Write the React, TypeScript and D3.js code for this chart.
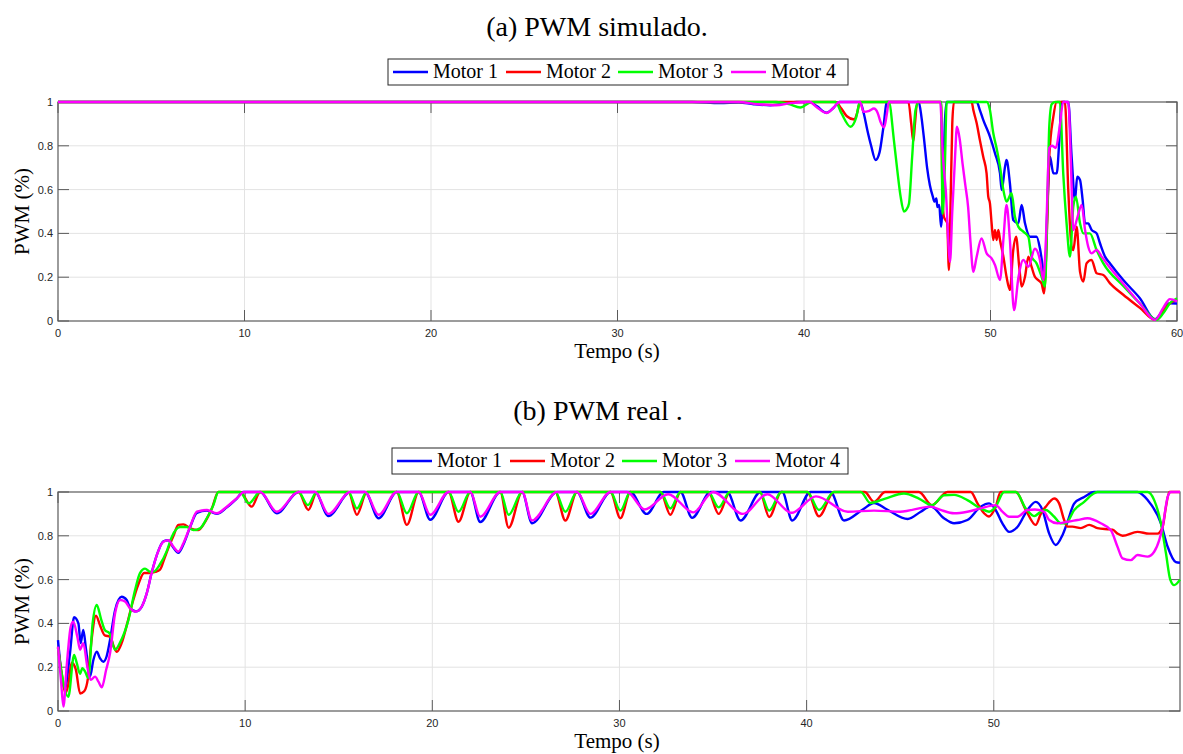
import React from "react";
import * as d3 from "d3";

type Pt = [number, number];

const motorNames = ["Motor 1", "Motor 2", "Motor 3", "Motor 4"];
const motorColors = ["#0000ff", "#ff0000", "#00ff00", "#ff00ff"];
const yTicks = [0, 0.2, 0.4, 0.6, 0.8, 1];
const simXTicks = [0, 10, 20, 30, 40, 50, 60];
const realXTicks = [0, 10, 20, 30, 40, 50];

// (a) PWM simulado
const simMotor1: Pt[] = [[0,1],[34,1],[35.5,0.995],[36.5,0.998],[37.3,0.99],[38.2,0.985],[39,0.993],[39.6,1],[40.3,1],[40.7,0.98],[41.2,0.951],[41.6,0.975],[41.9,1],[43.0,1],[43.2,0.95],[43.4,0.87],[43.6,0.8],[43.84,0.735],[44.05,0.77],[44.25,0.88],[44.45,1],[46.15,1],[46.3,0.93],[46.45,0.82],[46.6,0.7],[46.75,0.62],[46.9,0.57],[47.0,0.545],[47.1,0.56],[47.15,0.52],[47.25,0.53],[47.35,0.43],[47.45,0.6],[47.55,0.9],[47.65,1],[49.26,1],[49.43,0.963],[49.61,0.918],[49.97,0.842],[50.24,0.766],[50.51,0.674],[50.6,0.598],[50.78,0.705],[50.86,0.735],[51.04,0.629],[51.22,0.461],[51.49,0.446],[51.67,0.53],[51.85,0.446],[52.12,0.385],[52.47,0.385],[52.65,0.332],[52.83,0.233],[52.92,0.19],[53.05,0.522],[53.19,0.75],[53.37,0.674],[53.55,0.674],[53.69,0.826],[53.81,1],[54.17,1],[54.35,0.75],[54.53,0.553],[54.65,0.659],[54.8,0.644],[54.94,0.553],[55.07,0.446],[55.24,0.446],[55.42,0.416],[55.69,0.4],[55.87,0.355],[56.14,0.294],[56.41,0.263],[57.12,0.187],[58.01,0.104],[58.82,0.008],[59.26,0.05],[59.62,0.081],[60,0.08]];
const simMotor2: Pt[] = [[0,1],[41.7,1],[42.0,0.97],[42.3,0.935],[42.7,0.92],[42.85,0.95],[43.0,1],[45.6,1],[45.75,0.9],[45.86,0.82],[45.95,0.9],[46.07,1],[47.35,1],[47.42,0.6],[47.5,0.476],[47.68,0.446],[47.77,0.233],[47.85,0.5],[47.95,0.9],[48.04,1],[48.99,1],[49.08,0.963],[49.26,0.903],[49.43,0.826],[49.61,0.75],[49.79,0.674],[49.88,0.568],[49.97,0.537],[50.06,0.446],[50.15,0.37],[50.24,0.416],[50.33,0.37],[50.42,0.416],[50.51,0.37],[50.69,0.294],[50.86,0.202],[51.04,0.142],[51.22,0.324],[51.37,0.385],[51.54,0.248],[51.67,0.157],[51.85,0.202],[52.03,0.294],[52.2,0.248],[52.38,0.202],[52.56,0.187],[52.74,0.172],[52.87,0.126],[53.01,0.37],[53.15,0.75],[53.37,0.933],[53.55,1],[53.99,1],[54.17,0.598],[54.35,0.339],[54.44,0.324],[54.62,0.431],[54.8,0.225],[54.98,0.18],[55.15,0.263],[55.42,0.279],[55.69,0.218],[56.05,0.21],[56.41,0.172],[57.12,0.12],[58.01,0.06],[58.82,0.005],[59.26,0.05],[59.62,0.081],[60,0.096]];
const simMotor3: Pt[] = [[0,1],[38.5,1],[39.2,0.99],[39.8,0.975],[40.4,1],[41.7,1],[42.0,0.95],[42.5,0.887],[42.8,0.93],[43.0,1],[44.55,1],[44.82,0.826],[45.0,0.69],[45.18,0.568],[45.36,0.5],[45.5,0.51],[45.63,0.537],[45.8,0.75],[45.98,0.963],[46.16,1],[47.35,1],[47.43,0.49],[47.55,0.7],[47.65,1],[49.8,1],[49.97,0.963],[50.15,0.857],[50.33,0.788],[50.51,0.705],[50.69,0.598],[50.86,0.545],[51.13,0.583],[51.31,0.476],[51.49,0.431],[51.76,0.408],[52.03,0.385],[52.2,0.294],[52.47,0.263],[52.74,0.202],[52.92,0.157],[53.05,0.522],[53.15,0.887],[53.28,0.99],[53.46,1],[53.72,1],[53.9,0.674],[54.08,0.446],[54.26,0.294],[54.44,0.522],[54.58,0.568],[54.8,0.446],[54.98,0.4],[55.33,0.4],[55.69,0.324],[56.05,0.263],[57.12,0.16],[58.01,0.08],[58.91,0.005],[59.26,0.035],[59.62,0.081],[60,0.104]];
const simMotor4: Pt[] = [[0,1],[36.5,1],[37.5,0.99],[38.5,0.985],[39.3,0.995],[40.3,1],[40.7,0.975],[41.2,0.95],[41.6,0.975],[41.9,1],[43.0,1],[43.2,0.955],[43.5,0.96],[43.75,0.97],[43.95,0.95],[44.1,0.91],[44.3,0.884],[44.45,0.95],[44.55,1],[47.3,1],[47.45,0.75],[47.6,0.6],[47.83,0.27],[47.95,0.5],[48.1,0.75],[48.2,0.887],[48.35,0.83],[48.5,0.72],[48.65,0.62],[48.8,0.52],[48.92,0.37],[49.08,0.225],[49.25,0.29],[49.52,0.377],[49.79,0.309],[50.06,0.286],[50.24,0.256],[50.51,0.187],[50.69,0.37],[50.86,0.53],[51.04,0.37],[51.26,0.05],[51.5,0.2],[51.76,0.279],[52.03,0.248],[52.38,0.33],[52.65,0.279],[52.83,0.187],[52.97,0.37],[53.15,0.79],[53.3,0.8],[53.5,0.79],[53.7,0.88],[53.9,1],[54.17,1],[54.3,0.75],[54.44,0.415],[54.65,0.47],[54.89,0.53],[55.07,0.416],[55.24,0.339],[55.42,0.309],[55.69,0.324],[55.96,0.294],[56.23,0.263],[57.12,0.17],[58.01,0.08],[58.82,0.005],[59.26,0.06],[59.62,0.1],[60,0.09]];

// (b) PWM real
const realMotor1: Pt[] = [[0,0.324],[0.36,0.1],[0.64,0.263],[0.86,0.428],[1.09,0.4],[1.21,0.31],[1.35,0.37],[1.5,0.28],[1.71,0.157],[1.89,0.233],[2.07,0.271],[2.25,0.24],[2.42,0.225],[2.6,0.25],[2.78,0.324],[3.05,0.46],[3.4,0.522],[3.67,0.507],[3.85,0.47],[4.17,0.455],[4.47,0.476],[4.74,0.537],[5.0,0.63],[5.28,0.712],[5.63,0.775],[5.9,0.78],[6.17,0.745],[6.43,0.722],[6.7,0.76],[7.06,0.84],[7.42,0.905],[7.95,0.915],[8.48,0.9],[9.02,0.93],[9.55,0.97],[9.9,1],[10.8,1],[11.69,0.903],[12.85,1],[13.74,1],[14.45,0.89],[15.61,1],[16.41,1],[17.13,0.88],[18.1,1],[19.27,1],[19.89,0.873],[20.87,1],[22.03,1],[22.56,0.863],[23.63,1],[24.8,1],[25.33,0.857],[26.66,1],[27.73,1],[28.45,0.883],[29.52,1],[30.58,1],[31.45,0.9],[32.37,1],[33.26,1],[33.88,0.882],[34.87,1],[35.76,1],[36.47,0.87],[37.54,1],[38.7,1],[39.23,0.87],[40.21,1],[41.28,1],[42.0,0.87],[43.0,0.92],[43.6,0.95],[44.3,0.92],[45.4,0.877],[46.1,0.91],[46.63,0.935],[47.34,0.88],[47.88,0.857],[48.59,0.872],[49.3,0.933],[49.75,0.948],[50.1,0.918],[50.46,0.857],[50.82,0.818],[51.26,0.84],[51.8,0.918],[52.24,0.955],[52.6,0.918],[52.96,0.81],[53.31,0.758],[53.67,0.803],[53.94,0.864],[54.3,0.948],[54.83,0.977],[55.36,1],[57.68,1],[58.22,0.963],[58.93,0.857],[59.29,0.75],[59.73,0.68],[59.95,0.677]];
const realMotor2: Pt[] = [[0,0.29],[0.2,0.17],[0.4,0.08],[0.55,0.12],[0.73,0.22],[0.95,0.19],[1.18,0.08],[1.4,0.09],[1.6,0.15],[1.8,0.33],[2.03,0.435],[2.25,0.39],[2.5,0.345],[2.78,0.34],[3.0,0.29],[3.14,0.27],[3.4,0.31],[3.7,0.4],[4.0,0.5],[4.3,0.58],[4.6,0.63],[4.9,0.63],[5.2,0.635],[5.45,0.645],[5.7,0.7],[5.9,0.745],[6.17,0.8],[6.43,0.85],[6.7,0.852],[7.06,0.834],[7.5,0.826],[7.86,0.864],[8.22,0.925],[8.57,1],[9.73,1],[10.35,0.933],[10.8,1],[12.85,1],[13.38,0.918],[13.83,1],[15.52,1],[15.97,0.896],[16.5,1],[18.1,1],[18.64,0.85],[19.27,1],[20.87,1],[21.4,0.864],[22.03,1],[23.63,1],[24.08,0.837],[24.8,1],[26.57,1],[27.11,0.87],[27.73,1],[29.52,1],[30.05,0.88],[30.58,1],[32.19,1],[32.72,0.896],[33.26,1],[34.75,1],[35.3,0.9],[35.9,1],[37.5,1],[38.0,0.886],[38.65,1],[40.04,1],[40.66,0.889],[41.46,1],[43.1,1],[43.6,0.955],[44.2,1],[46.0,1],[46.7,0.94],[47.52,1],[48.77,1],[49.13,0.948],[49.48,0.903],[49.75,0.888],[50.1,0.933],[50.37,1],[51.18,1],[51.71,0.918],[52.24,0.85],[52.51,0.9],[52.78,0.933],[53.23,0.97],[53.49,0.948],[53.76,0.872],[53.94,0.842],[54.2,0.842],[54.65,0.835],[55.1,0.85],[55.54,0.835],[56.08,0.83],[56.35,0.828],[56.61,0.81],[56.88,0.8],[57.68,0.818],[58.3,0.81],[58.75,0.81],[59.02,0.84],[59.2,0.933],[59.38,1],[59.95,1]];
const realMotor3: Pt[] = [[0,0.29],[0.2,0.17],[0.55,0.065],[0.86,0.256],[1.0,0.22],[1.18,0.17],[1.3,0.195],[1.45,0.18],[1.62,0.15],[1.85,0.4],[2.07,0.484],[2.3,0.42],[2.5,0.37],[2.75,0.355],[3.05,0.28],[3.3,0.31],[3.76,0.415],[4.12,0.553],[4.38,0.63],[4.65,0.65],[4.92,0.636],[5.1,0.636],[5.45,0.67],[5.81,0.73],[6.08,0.795],[6.52,0.84],[6.88,0.84],[7.24,0.826],[7.59,0.834],[7.95,0.88],[8.3,0.94],[8.57,1],[9.73,1],[10.2,0.948],[10.8,1],[12.85,1],[13.35,0.94],[13.83,1],[15.52,1],[15.97,0.925],[16.5,1],[18.1,1],[18.64,0.903],[19.27,1],[20.87,1],[21.4,0.91],[22.03,1],[23.63,1],[24.08,0.896],[24.8,1],[26.57,1],[27.11,0.91],[27.73,1],[29.52,1],[30.05,0.915],[30.58,1],[32.19,1],[32.72,0.925],[33.26,1],[34.75,1],[35.3,0.93],[35.9,1],[37.5,1],[38.0,0.915],[38.65,1],[40.04,1],[40.66,0.918],[41.46,1],[42.9,1],[43.4,0.95],[44.2,0.97],[45.2,0.993],[46.0,0.97],[46.7,0.94],[47.34,0.985],[47.88,0.987],[48.59,0.963],[49.3,0.925],[49.75,0.91],[50.1,0.933],[50.55,1],[51.18,1],[51.71,0.925],[52.16,0.89],[52.51,0.91],[52.78,0.918],[53.23,0.887],[53.58,0.857],[53.85,0.857],[54.3,0.918],[54.83,0.955],[55.28,0.99],[55.54,1],[58.22,1],[58.57,0.963],[58.93,0.857],[59.2,0.72],[59.43,0.6],[59.64,0.575],[59.95,0.6]];
const realMotor4: Pt[] = [[0,0.294],[0.16,0.14],[0.29,0.02],[0.46,0.2],[0.68,0.385],[0.82,0.408],[1.03,0.34],[1.18,0.28],[1.35,0.31],[1.57,0.2],[1.75,0.142],[1.98,0.157],[2.16,0.134],[2.34,0.108],[2.57,0.187],[2.78,0.263],[3.05,0.446],[3.32,0.507],[3.58,0.5],[3.85,0.469],[4.17,0.454],[4.47,0.476],[4.74,0.537],[5.0,0.629],[5.28,0.712],[5.63,0.773],[5.9,0.78],[6.17,0.75],[6.43,0.728],[6.7,0.766],[7.06,0.842],[7.42,0.91],[7.95,0.918],[8.48,0.903],[9.02,0.933],[9.55,0.971],[9.95,1],[10.8,1],[11.69,0.91],[12.85,1],[13.74,1],[14.45,0.9],[15.61,1],[16.41,1],[17.13,0.896],[18.1,1],[19.27,1],[19.89,0.896],[20.87,1],[22.03,1],[22.56,0.887],[23.63,1],[24.8,1],[25.33,0.87],[26.66,1],[27.73,1],[28.45,0.9],[29.52,1],[30.4,1],[31.35,0.92],[32.6,0.99],[33.95,0.907],[35.0,1],[36.6,0.9],[37.9,0.99],[39.2,0.905],[40.5,0.98],[42.2,0.91],[43.6,0.915],[45.0,0.91],[46.63,0.933],[47.16,0.918],[47.88,0.903],[48.59,0.91],[49.3,0.925],[50.1,0.94],[50.46,0.91],[50.82,0.887],[51.26,0.887],[51.8,0.918],[52.2,0.92],[52.69,0.91],[52.96,0.872],[53.4,0.857],[53.94,0.864],[54.47,0.872],[55.01,0.88],[55.72,0.857],[56.26,0.825],[56.61,0.75],[56.88,0.697],[57.32,0.689],[57.68,0.712],[58.22,0.705],[58.57,0.727],[58.84,0.78],[59.02,0.84],[59.29,0.977],[59.47,1],[59.95,1]];

const simSeries = [simMotor1, simMotor2, simMotor3, simMotor4];
const realSeries = [realMotor1, realMotor2, realMotor3, realMotor4];

const SERIF = "'Liberation Serif', 'Times New Roman', serif";
const SANS = "'Liberation Sans', Arial, sans-serif";
const AXIS_COLOR = "#5a5a5a";
const GRID_COLOR = "#e3e3e3";

type PanelProps = {
  left: number; right: number; top: number; bottom: number;
  xMax: number; xTicks: number[]; series: Pt[][];
  title: string; titleY: number; titleX: number;
  legendX: number; legendY: number; legendW: number;
};

function Panel(p: PanelProps) {
  const x = d3.scaleLinear().domain([0, p.xMax]).range([p.left, p.right]);
  const y = d3.scaleLinear().domain([0, 1]).range([p.bottom, p.top]);
  const line = d3.line<Pt>().x(d => x(d[0])).y(d => y(d[1])).curve(d3.curveMonotoneX);
  const tickLen = 11;
  const legendOffsets = [5, 118, 230, 343];
  return (
    <g>
      <text x={p.titleX} y={p.titleY} textAnchor="middle" fontFamily={SERIF} fontSize={28} fill="#000">{p.title}</text>
      {p.xTicks.filter(t => t > 0 && t < p.xMax).map(t => (
        <line key={"gx" + t} x1={x(t)} x2={x(t)} y1={p.top} y2={p.bottom} stroke={GRID_COLOR} strokeWidth={1} />
      ))}
      {yTicks.filter(t => t > 0 && t < 1).map(t => (
        <line key={"gy" + t} x1={p.left} x2={p.right} y1={y(t)} y2={y(t)} stroke={GRID_COLOR} strokeWidth={1} />
      ))}
      {p.xTicks.map(t => (
        <g key={"tx" + t}>
          <line x1={x(t)} x2={x(t)} y1={p.bottom} y2={p.bottom - tickLen} stroke={AXIS_COLOR} strokeWidth={1} />
          <line x1={x(t)} x2={x(t)} y1={p.top} y2={p.top + tickLen} stroke={AXIS_COLOR} strokeWidth={1} />
          <text x={x(t)} y={p.bottom + 16} textAnchor="middle" fontFamily={SANS} fontSize={11} fill="#262626">{String(t)}</text>
        </g>
      ))}
      {yTicks.map(t => (
        <g key={"ty" + t}>
          <line x1={p.left} x2={p.left + tickLen} y1={y(t)} y2={y(t)} stroke={AXIS_COLOR} strokeWidth={1} />
          <line x1={p.right} x2={p.right - tickLen} y1={y(t)} y2={y(t)} stroke={AXIS_COLOR} strokeWidth={1} />
          <text x={p.left - 5} y={y(t) + 4} textAnchor="end" fontFamily={SANS} fontSize={11} fill="#262626">{String(t)}</text>
        </g>
      ))}
      <rect x={p.left} y={p.top} width={p.right - p.left} height={p.bottom - p.top} fill="none" stroke={AXIS_COLOR} strokeWidth={1.2} />
      {p.series.map((s, i) => (
        <path key={"s" + i} d={line(s) || ""} fill="none" stroke={motorColors[i]} strokeWidth={2.4} strokeLinejoin="round" />
      ))}
      <text x={617} y={p.bottom + 37} textAnchor="middle" fontFamily={SERIF} fontSize={21} fill="#000">Tempo (s)</text>
      <text transform={`translate(29, ${(p.top + p.bottom) / 2}) rotate(-90)`} textAnchor="middle" fontFamily={SERIF} fontSize={21} fill="#000">PWM (%)</text>
      <rect x={p.legendX} y={p.legendY} width={p.legendW} height={26} fill="#fff" stroke="#262626" strokeWidth={1} />
      {motorNames.map((n, i) => {
        const lx = p.legendX + legendOffsets[i];
        return (
          <g key={"lg" + i}>
            <line x1={lx} x2={lx + 35} y1={p.legendY + 13} y2={p.legendY + 13} stroke={motorColors[i]} strokeWidth={2.4} />
            <text x={lx + 40} y={p.legendY + 19} fontFamily={SERIF} fontSize={20} fill="#000">{n}</text>
          </g>
        );
      })}
    </g>
  );
}

export default function App() {
  return (
    <svg width={1183} height={754} style={{ position: "absolute", left: 0, top: 0, background: "#fff" }}>
      <rect x={0} y={0} width={1183} height={754} fill="#fff" />
      <Panel left={58} right={1177} top={102} bottom={321} xMax={60} xTicks={simXTicks} series={simSeries}
        title="(a) PWM simulado." titleY={36} titleX={597} legendX={388} legendY={59} legendW={460} />
      <Panel left={58} right={1180} top={492} bottom={711} xMax={59.95} xTicks={realXTicks} series={realSeries}
        title="(b) PWM real ." titleY={420} titleX={598} legendX={392} legendY={448} legendW={456} />
    </svg>
  );
}
